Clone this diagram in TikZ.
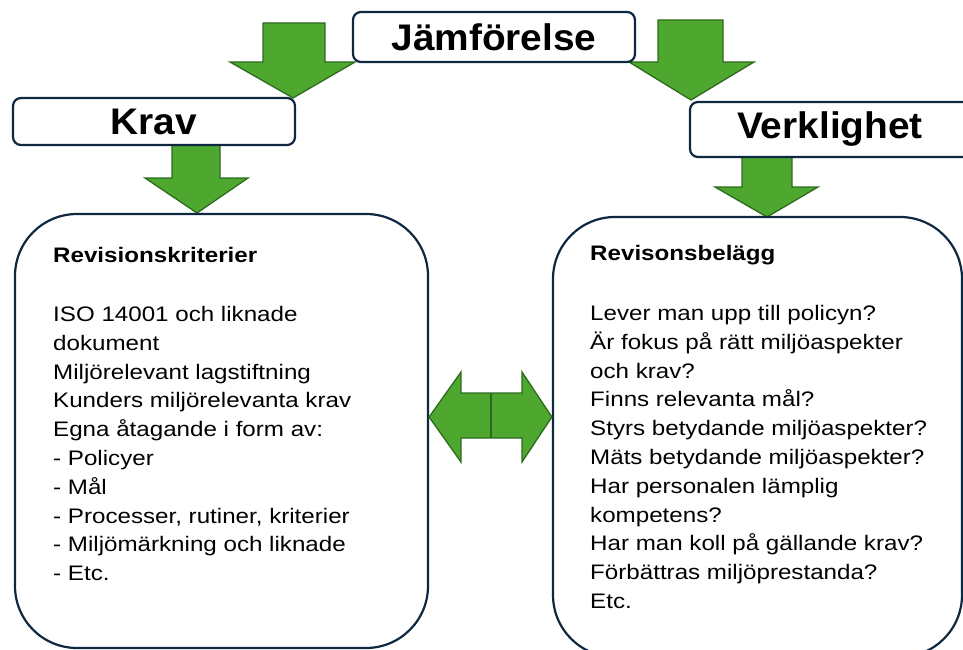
\documentclass[tikz,border=0pt]{standalone}
\usepackage{fontspec}
\setmainfont{Liberation Sans}
\newfontfamily\titlefont{Liberation Sans}[FakeStretch=1.05]
\newfontfamily\bodyfont{Liberation Sans}[FakeStretch=1.15]
\definecolor{arrowgreen}{HTML}{4EA72E}
\definecolor{arrowedge}{HTML}{2E6B1E}
\definecolor{boxedge}{HTML}{0E2841}

\begin{document}
\begin{tikzpicture}[x=1pt,y=-1pt,
            title box/.style={draw=boxedge,line width=2.2pt,rounded corners=8pt,fill=white,inner sep=0pt,font=\titlefont\fontsize{37}{40}\selectfont\bfseries},
            big box/.style={draw=boxedge,line width=2.2pt,rounded corners=62pt,inner sep=0pt},
            green arrow/.style={fill=arrowgreen,draw=arrowedge,line width=1.3pt},
            head text/.style={anchor=north west,inner sep=0pt,font=\bodyfont\fontsize{21}{28.8}\selectfont\bfseries},
            body text/.style={anchor=north west,inner sep=0pt,align=left,font=\bodyfont\fontsize{21}{28.8}\selectfont},
            ]
            
            \useasboundingbox (0,0) rectangle (963,650);
            \clip (0,0) rectangle (963,650);
            
            \draw[green arrow] (263,23) -- (325,23) -- (325,62) -- (355,62) -- (293,98) -- (230,62) -- (263,62) -- cycle;
            \draw[green arrow] (658,20) -- (723,20) -- (723,62) -- (754,62) -- (691,100) -- (629,62) -- (658,62) -- cycle;
            \draw[green arrow] (172,145) -- (220,145) -- (220,178) -- (248,178) -- (197,213) -- (145,178) -- (172,178) -- cycle;
            \draw[green arrow] (742,157) -- (792,157) -- (792,187) -- (818,187) -- (767,217) -- (715,187) -- (742,187) -- cycle;
            
            \node[title box, minimum width=282pt, minimum height=50pt] (jamforelse) at (494,37) {Jämförelse};
            \node[title box, minimum width=282pt, minimum height=47pt] (krav) at (154,121.5) {Krav};
            \node[title box, minimum width=290pt, minimum height=55pt] (verklighet) at (835,129.5) {\hspace*{-10pt}Verklighet};
            
            \node[big box, minimum width=413pt, minimum height=434pt] (kriterier) at (221.5,431) {};
            \node[big box, minimum width=409pt, minimum height=440pt] (belagg) at (757.5,437) {};
            
            \draw[green arrow] (kriterier.east |- 0,417) -- (461,372) -- (461,393) -- (522,393) -- (522,372) -- (belagg.west |- 0,417) -- (522,462) -- (522,438) -- (461,438) -- (461,462) -- cycle;
            \draw[arrowedge, line width=1.3pt] (491,393) -- (491,438);
            
            \node[head text] (kriterierrubrik) at (53,247) {Revisionskriterier};
            \node[body text] (kriterierlista) at (53,306) {ISO 14001 och liknade\\dokument\\Miljörelevant lagstiftning\\Kunders miljörelevanta krav\\Egna åtagande i form av:\\- Policyer\\- Mål\\- Processer, rutiner, kriterier\\- Miljömärkning och liknade\\- Etc.};
            
            \node[head text] (belaggrubrik) at (590,245) {Revisonsbelägg};
            \node[body text] (belagglista) at (590,305) {Lever man upp till policyn?\\Är fokus på rätt miljöaspekter\\och krav?\\Finns relevanta mål?\\Styrs betydande miljöaspekter?\\Mäts betydande miljöaspekter?\\Har personalen lämplig\\kompetens?\\Har man koll på gällande krav?\\Förbättras miljöprestanda?\\Etc.};
        \end{tikzpicture}
\end{document}
